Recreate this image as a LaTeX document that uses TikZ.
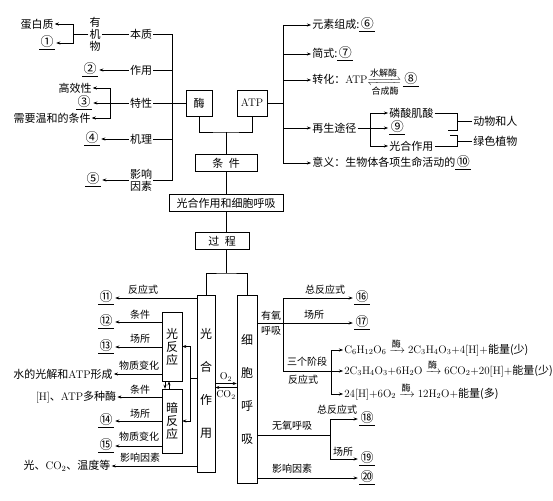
\documentclass[tikz,border=0pt]{standalone}
\usepackage{fontspec}
\usepackage{amsmath}
\usepackage{mathtools}
\newfontfamily\cjk{Noto Sans CJK SC}
\usetikzlibrary{arrows.meta}
\newcommand{\blank}[1]{\underline{\kern1.5pt{\fontsize{13}{13}\selectfont#1}\kern1.5pt}}
\newcommand{\enz}[1]{\mbox{\cjk\fontsize{9}{10}\selectfont#1}}

\begin{document}
\begin{tikzpicture}[
		x=1pt, y=-1pt, line width=.5pt,
		>={Stealth[length=4pt,width=3pt]},
		txt/.style = {inner sep=1pt, font=\cjk\fontsize{11}{12}\selectfont},
		lbl/.style = {inner sep=1pt, font=\cjk\fontsize{10}{11}\selectfont},
		box/.style = {draw, inner sep=1pt, font=\cjk\fontsize{11}{12}\selectfont},
		tall/.style = {box, align=center, font=\cjk\fontsize{12}{#1}\selectfont}
	]
	\useasboundingbox (0,0) rectangle (553,500);
	% Enzyme side.
	\node[txt] (dbz) at (37,24) {蛋白质};
	\node[txt] (n1) at (47,43) {\blank{①}};
	\node[txt, align=center] (yjw) at (95,34) {有\\机\\物};
	\node[txt] (bz) at (141,34) {本质};
	\node[txt] (zy) at (141,70) {作用};
	\node[txt] (tx) at (141,103) {特性};
	\node[txt] (jl) at (141,139) {机理};
	\node[txt, align=center] (yx1) at (141,180) {影响\\因素};
	\node[txt] (n2) at (90,70) {\blank{②}};
	\node[txt] (gxx) at (75,88) {高效性};
	\node[txt] (n3) at (84,103) {\blank{③}};
	\node[txt] (wh) at (52,118) {需要温和的条件};
	\node[txt] (n4) at (92,139) {\blank{④}};
	\node[txt] (n5) at (93,180) {\blank{⑤}};
	% Middle column.
	\node[box, minimum width=26pt, minimum height=26pt] (mei) at (199,103) {酶};
	\node[box, minimum width=30pt, minimum height=26pt] (atp) at (252,103) {\rmfamily ATP};
	\node[box, minimum width=62pt, minimum height=17pt] (tj) at (226,163) {条\enspace 件};
	\node[box, minimum width=114pt, minimum height=17pt] (gh) at (226,203) {光合作用和细胞呼吸};
	\node[box, minimum width=54pt, minimum height=17pt] (gc) at (222,241) {过\enspace 程};
	\node[tall=33, minimum width=18pt, minimum height=177pt] (gh2) at (206,383.5) {光\\合\\作\\用};
	\node[tall=33, minimum width=20pt, minimum height=188pt] (xb) at (247,389) {细\\胞\\呼\\吸};
	\node[tall=13, minimum width=20pt, minimum height=69pt] (gfy) at (172,346.5) {光\\反\\应};
	\node[tall=13, minimum width=20pt, minimum height=64pt] (afy) at (172,421) {暗\\反\\应};
	\node[lbl] (o2) at (226,377) {\rmfamily O$_2$};
	\node[lbl] (co2) at (226,395) {\rmfamily CO$_2$};
	% ATP side.
	\node[txt, anchor=west] (ys) at (311,25) {元素组成:\blank{⑥}};
	\node[txt, anchor=west] (js) at (311,54) {简式:\blank{⑦}};
	\node[txt, anchor=west] (zh) at (311,80) {转化：{\rmfamily ATP}$\mathrel{\smash{\xrightleftharpoons[\enz{合成酶}]{\enz{水解酶}}}}$\,\blank{⑧}};
	\node[txt, anchor=west] (zs) at (311,128) {再生途径};
	\node[txt, anchor=west] (lsjs) at (388,113) {磷酸肌酸};
	\node[txt, anchor=west] (n9) at (388,128) {\blank{⑨}};
	\node[txt, anchor=west] (ghzy) at (388,146) {光合作用};
	\node[txt, anchor=west] (dwhr) at (472,121) {动物和人};
	\node[txt, anchor=west] (lszw) at (472,141) {绿色植物};
	\node[txt, anchor=west] (yy) at (311,163) {意义：生物体各项生命活动的\blank{⑩}};
	% Photosynthesis.
	\node[txt] (n11) at (106,298) {\blank{⑪}};
	\node[txt] (n12) at (106,322) {\blank{⑫}};
	\node[txt] (n13) at (106,347) {\blank{⑬}};
	\node[txt] (gj) at (63,374) {水的光解和{\rmfamily ATP}形成};
	\node[txt] (hat) at (76,397) {{\rmfamily [H]}、{\rmfamily ATP}多种酶};
	\node[txt] (n14) at (106,421) {\blank{⑭}};
	\node[txt] (n15) at (106,446) {\blank{⑮}};
	\node[txt] (gco) at (67,466) {光、{\rmfamily CO$_2$}、温度等};
	\node[lbl] (l11) at (143,290) {反应式};
	\node[lbl] (l12) at (140,315) {条件};
	\node[lbl] (l13) at (140,339) {场所};
	\node[lbl] (l14) at (139,366) {物质变化};
	\node[lbl] (l15) at (140,390) {条件};
	\node[lbl] (l16) at (140,414) {场所};
	\node[lbl] (l17) at (139,437) {物质变化};
	\node[lbl] (l18) at (140,458) {影响因素};
	% Respiration.
	\node[lbl] (yy1) at (271,316) {有氧};
	\node[lbl] (yy2) at (271,331) {呼吸};
	\node[txt] (n16) at (362,298) {\blank{⑯}};
	\node[txt] (n17) at (362,323) {\blank{⑰}};
	\node[lbl] (l19) at (325,290) {总反应式};
	\node[lbl] (l20) at (314,315) {场所};
	\node[lbl] (l21) at (307,362) {三个阶段};
	\node[lbl] (l22) at (303,380) {反应式};
	\node[txt, anchor=west] (eq1) at (343,350) {$\mathrm{C_6H_{12}O_6}\mathrel{\smash{\xrightarrow{\enz{酶}}}}\mathrm{2C_3H_4O_3{+}4[H]{+}}$能量(少)};
	\node[txt, anchor=west] (eq2) at (343,371) {$\mathrm{2C_3H_4O_3{+}6H_2O}\mathrel{\smash{\xrightarrow{\enz{酶}}}}\mathrm{6CO_2{+}20[H]{+}}$能量(少)};
	\node[txt, anchor=west] (eq3) at (343,394) {$\mathrm{24[H]{+}6O_2}\mathrel{\smash{\xrightarrow{\enz{酶}}}}\mathrm{12H_2O{+}}$能量(多)};
	\node[lbl] (l23) at (292,426) {无氧呼吸};
	\node[txt] (n18) at (367,419) {\blank{⑱}};
	\node[lbl] (l24) at (337,410) {总反应式};
	\node[txt] (n19) at (367,459) {\blank{⑲}};
	\node[lbl] (l25) at (343,452) {场所};
	\node[txt] (n20) at (367,478) {\blank{⑳}};
	\node[lbl] (l26) at (292,469) {影响因素};

	% Enzyme connectors.
	\coordinate (kb1) at (73,34);
	\coordinate (sL) at (172,180);
	\coordinate (kb3) at (110,103);
	\draw (yjw) -- (kb1);
	\draw[->] (kb1) |- (dbz.east);
	\draw[->] (kb1) |- (n1.east);
	\draw (yjw) -- (bz);
	\draw (bz.east) -| (sL) -- (yx1.east);
	\draw (zy.east) -- (zy.east -| sL);
	\draw (jl.east) -- (jl.east -| sL);
	\draw (tx.east) -- (mei.west);
	\draw[->] (zy) -- (n2);
	\draw[->] (tx) -- (n3);
	\draw[->] (kb3) |- (gxx.east);
	\draw[->] (kb3) |- (wh.east);
	\draw[->] (jl) -- (n4);
	\draw[->] (yx1) -- (n5);
	% Middle connectors.
	\coordinate (jm) at (226,132);
	\coordinate (jp) at (226,273);
	\draw (mei.south) |- (jm) -| (atp.south);
	\draw (jm) -- (tj.north);
	\draw (tj) -- (gh);
	\draw (gh.south -| jm) -- (gc.north -| jm);
	\draw (gc.south -| jp) -- (jp);
	\draw (gh2.north) |- (jp) -| (xb.north);
	\path (gh2.east) ++(0,4) coordinate (oc);
	\draw[->] (gh2.east) -- (gh2.east -| xb.west);
	\draw[<-] (oc) -- (oc -| xb.west);
	% ATP connectors.
	\coordinate (sR1) at (283,25);
	\coordinate (sR2) at (283,163);
	\coordinate (kz) at (370,128);
	\coordinate (ka) at (457,115);
	\coordinate (kb) at (457,130);
	\coordinate (kc) at (448,130);
	\coordinate (kd) at (450,135);
	\coordinate (ke) at (457,135);
	\draw (atp.east) -- (atp.east -| sR1);
	\draw (sR1) -- (sR2);
	\draw[->] (sR1) -- (ys.west);
	\draw[->] (js.west -| sR1) -- (js.west);
	\draw[->] (zh.west -| sR1) -- (zh.west);
	\draw[->] (zs.west -| sR1) -- (zs.west);
	\draw[->] (sR2) -- (yy.west);
	\draw (zs.east) -- (kz);
	\draw[->] (kz) |- (lsjs.west);
	\draw[->] (kz) -- (n9.west);
	\draw[->] (kz) |- (ghzy.west);
	\draw (lsjs.east) -| (kb) -- (kc);
	\draw (dwhr.west) -- (dwhr.west -| ka);
	\draw (kd) -- (ke) |- (ghzy.east);
	\draw (lszw.west) -- (lszw.west -| ke);
	% Photosynthesis connectors.
	\coordinate (kg) at (190,378);
	\draw[->] (n11 -| gh2.west) -- (n11);
	\draw[->] (n12 -| gfy.west) -- (n12);
	\draw[->] (n13 -| gfy.west) -- (n13);
	\draw[->] (gj -| gfy.west) -- (gj);
	\draw[->] (hat -| afy.west) -- (hat);
	\draw[->] (n14 -| afy.west) -- (n14);
	\draw[->] (n15 -| afy.west) -- (n15);
	\draw[->] (gco -| gh2.west) -- (gco);
	\draw (gh2.west |- kg) -- (kg);
	\draw[->] (kg) |- (gfy.east);
	\draw[->] (kg) |- (afy.east);
	\draw[->] ([xshift=-7pt]gfy.south) -- ([xshift=-7pt]afy.north);
	\draw[<-] ([xshift=-3pt]gfy.south) -- ([xshift=-3pt]afy.north);
	% Respiration connectors.
	\coordinate (cyt) at (283,298);
	\coordinate (cyb) at (283,371);
	\coordinate (ks) at (331,371);
	\coordinate (kw) at (330,435);
	\draw[->] (xb.east |- n17) -- (n17);
	\draw (cyt) -- (cyb);
	\draw[->] (cyt) -- (n16);
	\draw[->] (cyb) -- (eq2.west);
	\draw[->] (ks) |- (eq1.west);
	\draw[->] (ks) |- (eq3.west);
	\draw (xb.east |- kw) -- (kw);
	\draw[->] (kw) |- (n18);
	\draw[->] (kw) |- (n19);
	\draw[->] (xb.east |- n20) -- (n20);
\end{tikzpicture}
\end{document}
